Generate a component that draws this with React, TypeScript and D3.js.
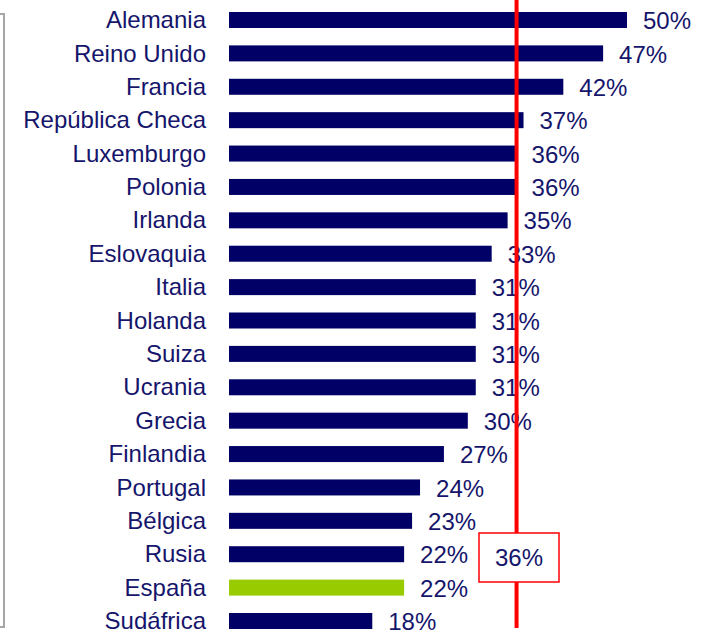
import React, { useEffect, useRef } from "react";
import * as d3 from "d3";

const countries = [
  "Alemania", "Reino Unido", "Francia", "República Checa", "Luxemburgo",
  "Polonia", "Irlanda", "Eslovaquia", "Italia", "Holanda", "Suiza",
  "Ucrania", "Grecia", "Finlandia", "Portugal", "Bélgica", "Rusia",
  "España", "Sudáfrica",
];
const shares = [50, 47, 42, 37, 36, 36, 35, 33, 31, 31, 31, 31, 30, 27, 24, 23, 22, 22, 18];
const highlight = "España";
const average = 36;

const W = 710, H = 634;
const navy = "#000066";
const textColor = "#15156b";

export default function App() {
  const ref = useRef<SVGSVGElement>(null);

  useEffect(() => {
    const svg = d3.select(ref.current);
    svg.selectAll("*").remove();

    const data = countries.map((c, i) => ({ c, v: shares[i] }));
    const x = d3.scaleLinear().domain([0, 50]).range([229, 627]);
    const y = d3.scalePoint<string>().domain(countries).range([20, 621]);
    const barH = 16;
    const font = "'Liberation Sans', Arial, sans-serif";

    // frame edge on the left
    svg.append("path")
      .attr("d", "M0,14 H4 V627 H0")
      .attr("fill", "none")
      .attr("stroke", "#a6a6a6")
      .attr("stroke-width", 2);

    svg.selectAll(".bar")
      .data(data)
      .enter().append("rect")
      .attr("x", x(0))
      .attr("y", d => y(d.c)! - barH / 2)
      .attr("width", d => x(d.v) - x(0))
      .attr("height", barH)
      .attr("fill", d => d.c === highlight ? "#99cc00" : navy);

    svg.selectAll(".cat")
      .data(data)
      .enter().append("text")
      .attr("x", 206)
      .attr("y", d => y(d.c)!)
      .attr("dy", "0.34em")
      .attr("text-anchor", "end")
      .attr("font-family", font)
      .attr("font-size", 24)
      .attr("fill", textColor)
      .text(d => d.c);

    svg.selectAll(".val")
      .data(data)
      .enter().append("text")
      .attr("x", d => x(d.v) + 16)
      .attr("y", d => y(d.c)! + 1)
      .attr("dy", "0.34em")
      .attr("font-family", font)
      .attr("font-size", 24)
      .attr("fill", textColor)
      .text(d => d.v + "%");

    // average line
    svg.append("line")
      .attr("x1", x(average) + 1).attr("x2", x(average) + 1)
      .attr("y1", 0).attr("y2", 628)
      .attr("stroke", "#ff0000")
      .attr("stroke-width", 4);

    svg.append("rect")
      .attr("x", 479).attr("y", 533)
      .attr("width", 80).attr("height", 49)
      .attr("fill", "#fff")
      .attr("stroke", "#ff0000")
      .attr("stroke-width", 1.5);

    svg.append("text")
      .attr("x", 519).attr("y", 558)
      .attr("dy", "0.34em")
      .attr("text-anchor", "middle")
      .attr("font-family", font)
      .attr("font-size", 24)
      .attr("fill", textColor)
      .text(average + "%");
  }, []);

  return (
    <svg ref={ref} width={W} height={H}
      style={{ position: "absolute", left: 0, top: 0, background: "#fff" }} />
  );
}
